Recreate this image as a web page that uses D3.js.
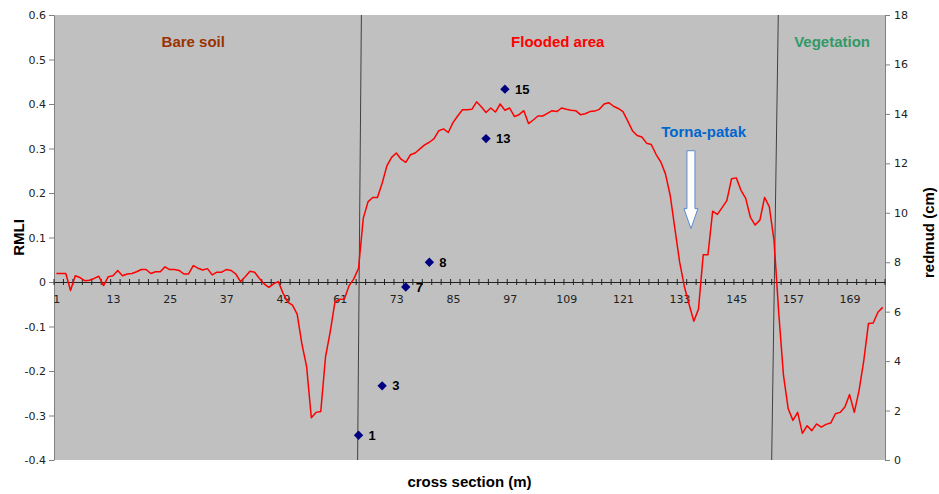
<!DOCTYPE html>
<html>
<head>
<meta charset="utf-8">
<script src="https://cdn.jsdelivr.net/npm/d3@7"></script>
<style>
  body { margin: 0; background: #fff; }
  text { font-family: Arial, "Liberation Sans", sans-serif; }
  .axis text { font-family: "DejaVu Sans", sans-serif; font-size: 11px; fill: #222; }
</style>
</head>
<body>
<div id="chart"></div>
<script>
// RMLI along the cross section, one value per metre
var rmli = [
  0.019, 0.019, 0.019, -0.019, 0.014, 0.010, 0.003, 0.004, 0.008, 0.013,
  -0.008, 0.012, 0.014, 0.026, 0.014, 0.018, 0.019, 0.023, 0.028, 0.028,
  0.019, 0.023, 0.023, 0.034, 0.028, 0.028, 0.026, 0.018, 0.018, 0.037,
  0.031, 0.027, 0.030, 0.016, 0.022, 0.022, 0.028, 0.026, 0.018, 0.001,
  0.012, 0.024, 0.022, 0.008, -0.004, -0.012, -0.004, 0.001, -0.025, -0.045,
  -0.052, -0.072, -0.139, -0.190, -0.305, -0.293, -0.291, -0.169, -0.112, -0.045,
  -0.039, -0.038, -0.008, 0.007, 0.031, 0.143, 0.180, 0.190, 0.190, 0.222,
  0.261, 0.280, 0.290, 0.276, 0.269, 0.286, 0.290, 0.299, 0.308, 0.314,
  0.322, 0.340, 0.344, 0.336, 0.358, 0.373, 0.387, 0.387, 0.388, 0.405,
  0.394, 0.381, 0.391, 0.382, 0.400, 0.386, 0.391, 0.372, 0.376, 0.385,
  0.356, 0.364, 0.373, 0.373, 0.379, 0.385, 0.383, 0.391, 0.388, 0.386,
  0.385, 0.376, 0.378, 0.383, 0.384, 0.388, 0.400, 0.403, 0.395, 0.390,
  0.383, 0.362, 0.340, 0.329, 0.326, 0.312, 0.309, 0.287, 0.270, 0.243,
  0.195, 0.120, 0.045, -0.010, -0.050, -0.088, -0.061, 0.061, 0.061, 0.159,
  0.152, 0.167, 0.183, 0.232, 0.234, 0.206, 0.188, 0.145, 0.128, 0.139,
  0.190, 0.169, 0.093, -0.070, -0.210, -0.285, -0.311, -0.293, -0.340, -0.323,
  -0.334, -0.319, -0.326, -0.320, -0.317, -0.296, -0.293, -0.281, -0.253, -0.293,
  -0.244, -0.177, -0.093, -0.092, -0.068, -0.057
];
var xLabels = [1, 13, 25, 37, 49, 61, 73, 85, 97, 109, 121, 133, 145, 157, 169];

// redmud thickness samples (right axis)
var sampleCat = [65, 70, 75, 80, 92, 96];
var sampleMud = [1, 3, 7, 8, 13, 15];

var zoneNames = ["Bare soil", "Flooded area", "Vegetation"];
var zoneColors = ["#993300", "#ff0000", "#339966"];
// boundary lines between zones, in metres (top / bottom end)
var zoneTop = [65.6, 153.9];
var zoneBottom = [64.8, 152.5];

var W = 939, H = 494;
var margin = {top: 15, right: 54, bottom: 34, left: 54};

var svg = d3.select("#chart").append("svg")
    .attr("width", W).attr("height", H);

var x = d3.scaleLinear()
    .domain([0.5, rmli.length + 0.5])
    .range([margin.left, W - margin.right]);
var y = d3.scaleLinear()
    .domain([-0.4, 0.6])
    .range([H - margin.bottom, margin.top]);
var y2 = d3.scaleLinear()
    .domain([0, 18])
    .range([H - margin.bottom, margin.top]);

// plot background
svg.append("rect")
    .attr("x", x.range()[0]).attr("y", y.range()[1])
    .attr("width", x.range()[1] - x.range()[0])
    .attr("height", y.range()[0] - y.range()[1])
    .attr("fill", "#c0c0c0");

// left axis
var gl = svg.append("g")
    .attr("class", "axis")
    .attr("transform", "translate(" + x.range()[0] + ",0)")
    .call(d3.axisLeft(y).ticks(10).tickSize(5).tickSizeOuter(0).tickPadding(3)
      .tickFormat(function(d) { return String(+d.toFixed(1)); }));
gl.selectAll("line, path").attr("stroke", "#808080");

// right axis
var gr = svg.append("g")
    .attr("class", "axis")
    .attr("transform", "translate(" + x.range()[1] + ",0)")
    .call(d3.axisRight(y2).tickValues(d3.range(0, 19, 2)).tickSize(5).tickSizeOuter(0).tickPadding(4));
gr.selectAll("line, path").attr("stroke", "#808080");

// category axis on the zero line
var gx = svg.append("g")
    .attr("class", "axis")
    .attr("transform", "translate(0," + y(0) + ")")
    .call(d3.axisBottom(x).tickValues(xLabels).tickSize(0).tickPadding(13).tickFormat(d3.format("d")));
gx.select(".domain").attr("stroke", "#222");

gx.selectAll(".mark")
    .data(d3.range(0.5, rmli.length + 1, 2))
    .enter().append("line")
      .attr("class", "mark")
      .attr("x1", function(d) { return x(d); })
      .attr("x2", function(d) { return x(d); })
      .attr("y1", -3).attr("y2", 3)
      .attr("stroke", "#222");

// zone boundaries
svg.append("g").selectAll("line")
    .data(zoneTop)
    .enter().append("line")
      .attr("x1", function(d) { return x(d); })
      .attr("y1", y(0.6))
      .attr("x2", function(d, i) { return x(zoneBottom[i]); })
      .attr("y2", y(-0.4))
      .attr("stroke", "#404040")
      .attr("stroke-width", 1);

// RMLI line
var line = d3.line()
    .x(function(d, i) { return x(i + 1); })
    .y(function(d) { return y(d); });

svg.append("path")
    .datum(rmli)
    .attr("fill", "none")
    .attr("stroke", "#ff0000")
    .attr("stroke-width", 1.5)
    .attr("stroke-linejoin", "round")
    .attr("d", line);

// redmud samples
var samples = svg.append("g").selectAll("g")
    .data(sampleCat)
    .enter().append("g")
      .attr("transform", function(d, i) { return "translate(" + x(d) + "," + y2(sampleMud[i]) + ")"; });

samples.append("path")
    .attr("d", d3.symbol(d3.symbolSquare, 44))
    .attr("transform", "rotate(45)")
    .attr("fill", "#000080");

samples.append("text")
    .attr("x", 10)
    .attr("dy", "0.35em")
    .attr("font-size", 13)
    .attr("font-weight", "bold")
    .attr("fill", "#000")
    .text(function(d, i) { return sampleMud[i]; });

// zone titles
var zoneAt = [30, 107.2, 165.3];
svg.append("g").selectAll("text")
    .data(zoneNames)
    .enter().append("text")
      .attr("x", function(d, i) { return x(zoneAt[i]); })
      .attr("y", y(0.54))
      .attr("dy", "0.35em")
      .attr("text-anchor", "middle")
      .attr("font-size", 15)
      .attr("font-weight", "bold")
      .attr("fill", function(d, i) { return zoneColors[i]; })
      .text(function(d) { return d; });

// Torna-patak stream annotation
svg.append("text")
    .attr("x", x(138.1))
    .attr("y", y(0.337))
    .attr("dy", "0.35em")
    .attr("text-anchor", "middle")
    .attr("font-size", 15)
    .attr("font-weight", "bold")
    .attr("fill", "#0066cc")
    .text("Torna-patak");

var ax = x(135.4), at = y(0.295), ap = y(0.12);
var sw = 4, hw = 7, hl = 20;
svg.append("path")
    .attr("d", "M" + (ax - sw) + "," + at +
      "L" + (ax + sw) + "," + at +
      "L" + (ax + sw) + "," + (ap - hl) +
      "L" + (ax + hw) + "," + (ap - hl) +
      "L" + ax + "," + ap +
      "L" + (ax - hw) + "," + (ap - hl) +
      "L" + (ax - sw) + "," + (ap - hl) + "Z")
    .attr("fill", "#fff")
    .attr("stroke", "#5b8ccc")
    .attr("stroke-width", 1);

// axis titles
svg.append("text")
    .attr("transform", "translate(24," + y(0.1) + ") rotate(-90)")
    .attr("text-anchor", "middle")
    .attr("font-size", 15)
    .attr("font-weight", "bold")
    .text("RMLI");

svg.append("text")
    .attr("transform", "translate(934," + y2(9.2) + ") rotate(-90)")
    .attr("text-anchor", "middle")
    .attr("font-size", 15)
    .attr("font-weight", "bold")
    .text("redmud (cm)");

svg.append("text")
    .attr("x", (x.range()[0] + x.range()[1]) / 2)
    .attr("y", 487)
    .attr("text-anchor", "middle")
    .attr("font-size", 15)
    .attr("font-weight", "bold")
    .text("cross section (m)");
</script>
</body>
</html>
